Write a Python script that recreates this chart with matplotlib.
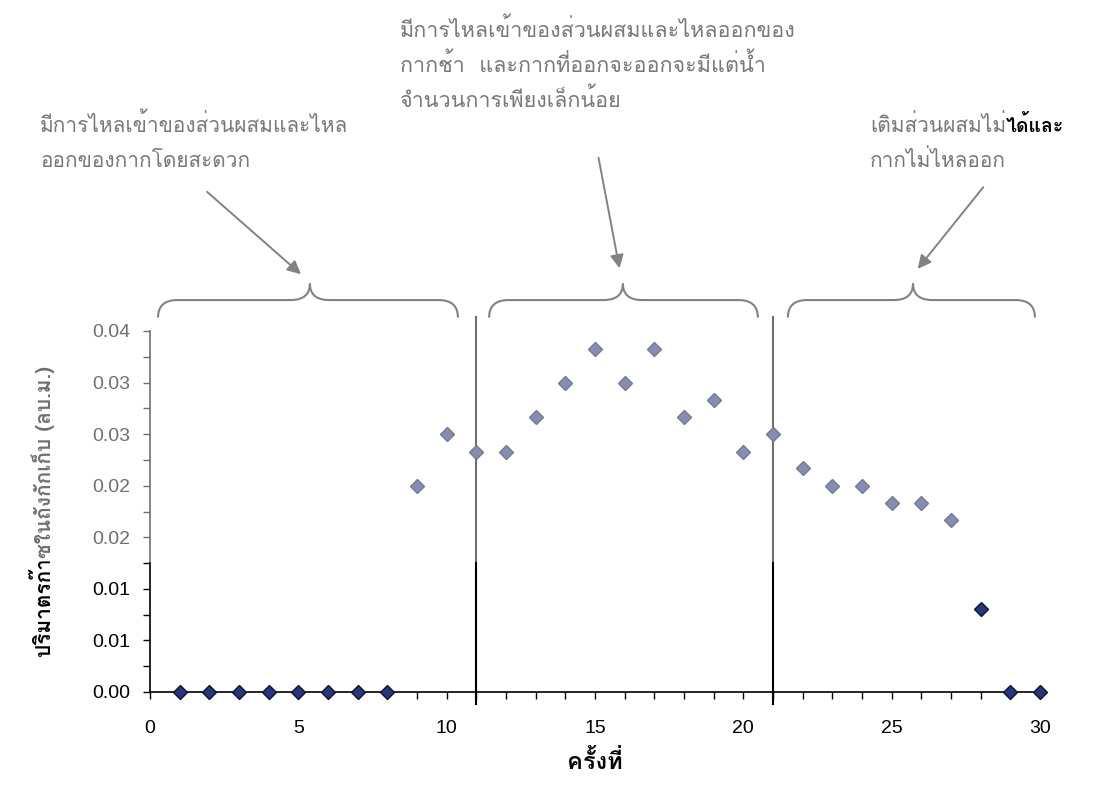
import matplotlib
matplotlib.use('Agg')
import matplotlib.pyplot as plt
from matplotlib import font_manager
from matplotlib.ft2font import FT2Font
from matplotlib.path import Path
from matplotlib.patches import PathPatch, Rectangle, FancyArrowPatch
from matplotlib.text import Annotation

# data
rounds = list(range(1, 31))
gas_volume = [0, 0, 0, 0, 0, 0, 0, 0,
              0.0200, 0.0250, 0.0233, 0.0233, 0.0267, 0.0300, 0.0333,
              0.0300, 0.0333, 0.0267, 0.0283, 0.0233, 0.0250, 0.0217,
              0.0200, 0.0200, 0.0183, 0.0183, 0.0167, 0.0080, 0, 0]
y_ticks = [0, 0.005, 0.01, 0.015, 0.02, 0.025, 0.03, 0.035]
y_tick_labels = ['0.00', '0.01', '0.01', '0.02', '0.02', '0.03', '0.03', '0.04']
x_ticks = [0, 5, 10, 15, 20, 25, 30]
phase_bounds = [11, 21]

note1 = ["มีการไหลเข้าของส่วนผสมและไหล", "ออกของกากโดยสะดวก"]
note2 = ["มีการไหลเข้าของส่วนผสมและไหลออกของ", "กากช้า  และกากที่ออกจะออกจะมีแต่น้ำ",
         "จำนวนการเพียงเล็กน้อย"]
note3 = ["เติมส่วนผสมไม่", "กากไม่ไหลออก"]
note3_bold = "ได้และ"
x_title = "ครั้งที่"
y_title = "ปริมาตรก๊าซในถังกักเก็บ (ลบ.ม.)"

# fonts that have Thai glyphs, Loma first if it is there
thai_fonts = []
for f in font_manager.fontManager.ttflist:
    try:
        if 0x0E01 in FT2Font(f.fname).get_charmap() and f.name not in thai_fonts:
            thai_fonts.append(f.name)
    except Exception:
        pass
if 'Loma' in thai_fonts:
    thai_fonts.remove('Loma')
    thai_fonts.insert(0, 'Loma')
thai_family = thai_fonts + ['DejaVu Sans']
plt.rcParams['font.family'] = ['Liberation Sans'] + thai_family

W, H = 1103, 792
fig = plt.figure(figsize=(W / 100, H / 100), dpi=100)


def px(x, y):
    return x / W, 1 - y / H


ax = fig.add_axes([150 / W, 1 - 692 / H, 890 / W, 361 / H])
ax.plot(rounds, gas_volume, linestyle='none', marker='D', markersize=7.5,
        markerfacecolor='#27357a', markeredgecolor='#0d1530', markeredgewidth=1,
        clip_on=False, zorder=5)

ax.set_xlim(0, 30)
ax.set_ylim(0, 0.035)
ax.set_xticks(x_ticks)
ax.set_xticks(rounds, minor=True)
ax.set_yticks(y_ticks)
ax.set_yticklabels(y_tick_labels)
ax.set_yticks([t + 0.0025 for t in y_ticks[:-1]], minor=True)
for s in ['top', 'right']:
    ax.spines[s].set_visible(False)
for s in ['left', 'bottom']:
    ax.spines[s].set_color('black')
    ax.spines[s].set_linewidth(1.2)
ax.tick_params(axis='both', which='both', direction='out', length=5, width=1, color='black')
ax.tick_params(axis='x', which='major', labelsize=14, pad=15)
ax.tick_params(axis='y', which='major', labelsize=14, pad=9)

ax.set_xlabel(x_title, fontsize=17, fontweight='bold', family=thai_family)
ax.set_ylabel(y_title, fontsize=15, fontweight='bold', family=thai_family)
ax.xaxis.set_label_coords(0.5, -0.16)
ax.yaxis.set_label_coords(-0.107, 0.5)

# phase boundaries
for b in phase_bounds:
    ax.axvline(b, ymin=-12 / 361, ymax=1 + 14 / 361, color='black', lw=1.5, clip_on=False, zorder=4)


def brace(ax, x0, x1, xt, y_end=0.0363, y_bar=0.0380, y_tip=0.0396, r=0.65):
    verts = [(x0, y_end), (x0, y_bar), (x0 + r, y_bar),
             (xt - r, y_bar), (xt, y_bar), (xt, y_tip),
             (xt, y_bar), (xt + r, y_bar),
             (x1 - r, y_bar), (x1, y_bar), (x1, y_end)]
    codes = [Path.MOVETO, Path.CURVE3, Path.CURVE3,
             Path.LINETO, Path.CURVE3, Path.CURVE3,
             Path.CURVE3, Path.CURVE3,
             Path.LINETO, Path.CURVE3, Path.CURVE3]
    ax.add_patch(PathPatch(Path(verts, codes), facecolor='none', edgecolor='#222222',
                           lw=1.5, clip_on=False))


brace(ax, 0.27, 10.38, 5.39)
brace(ax, 11.43, 20.49, 15.94)
brace(ax, 21.5, 29.83, 25.72)


def note(lines, x, y0, step=35, size=15):
    out = []
    for i, line in enumerate(lines):
        out.append(fig.text(*px(x, y0 + i * step), line, fontsize=size, family=thai_family,
                            ha='left', va='baseline', color='#111111'))
    return out


note(note1, 40, 132)
note(note2, 400, 37, size=15.5)
t3 = note(note3, 870, 132)

for a, b in [((205, 190), (303, 276)), ((598, 155), (620, 271)), ((985, 185), (916, 271))]:
    fig.add_artist(FancyArrowPatch(px(*a), px(*b), transform=fig.transFigure,
                                   arrowstyle='-|>', mutation_scale=20, lw=1.4,
                                   color='#222222'))

# watermark lightening over the upper part of the page
fig.add_artist(Rectangle((0, 1 - 562 / H), 1, 562 / H, transform=fig.transFigure,
                         facecolor='white', edgecolor='none', alpha=0.44, zorder=10))

bold_part = Annotation(note3_bold, xy=(1, 0), xycoords=t3[0], ha='left', va='bottom',
                       fontsize=14, fontweight='bold', family=thai_family, color='black')
bold_part.set_zorder(11)
fig.add_artist(bold_part)

fig.savefig('out.png', dpi=100)
